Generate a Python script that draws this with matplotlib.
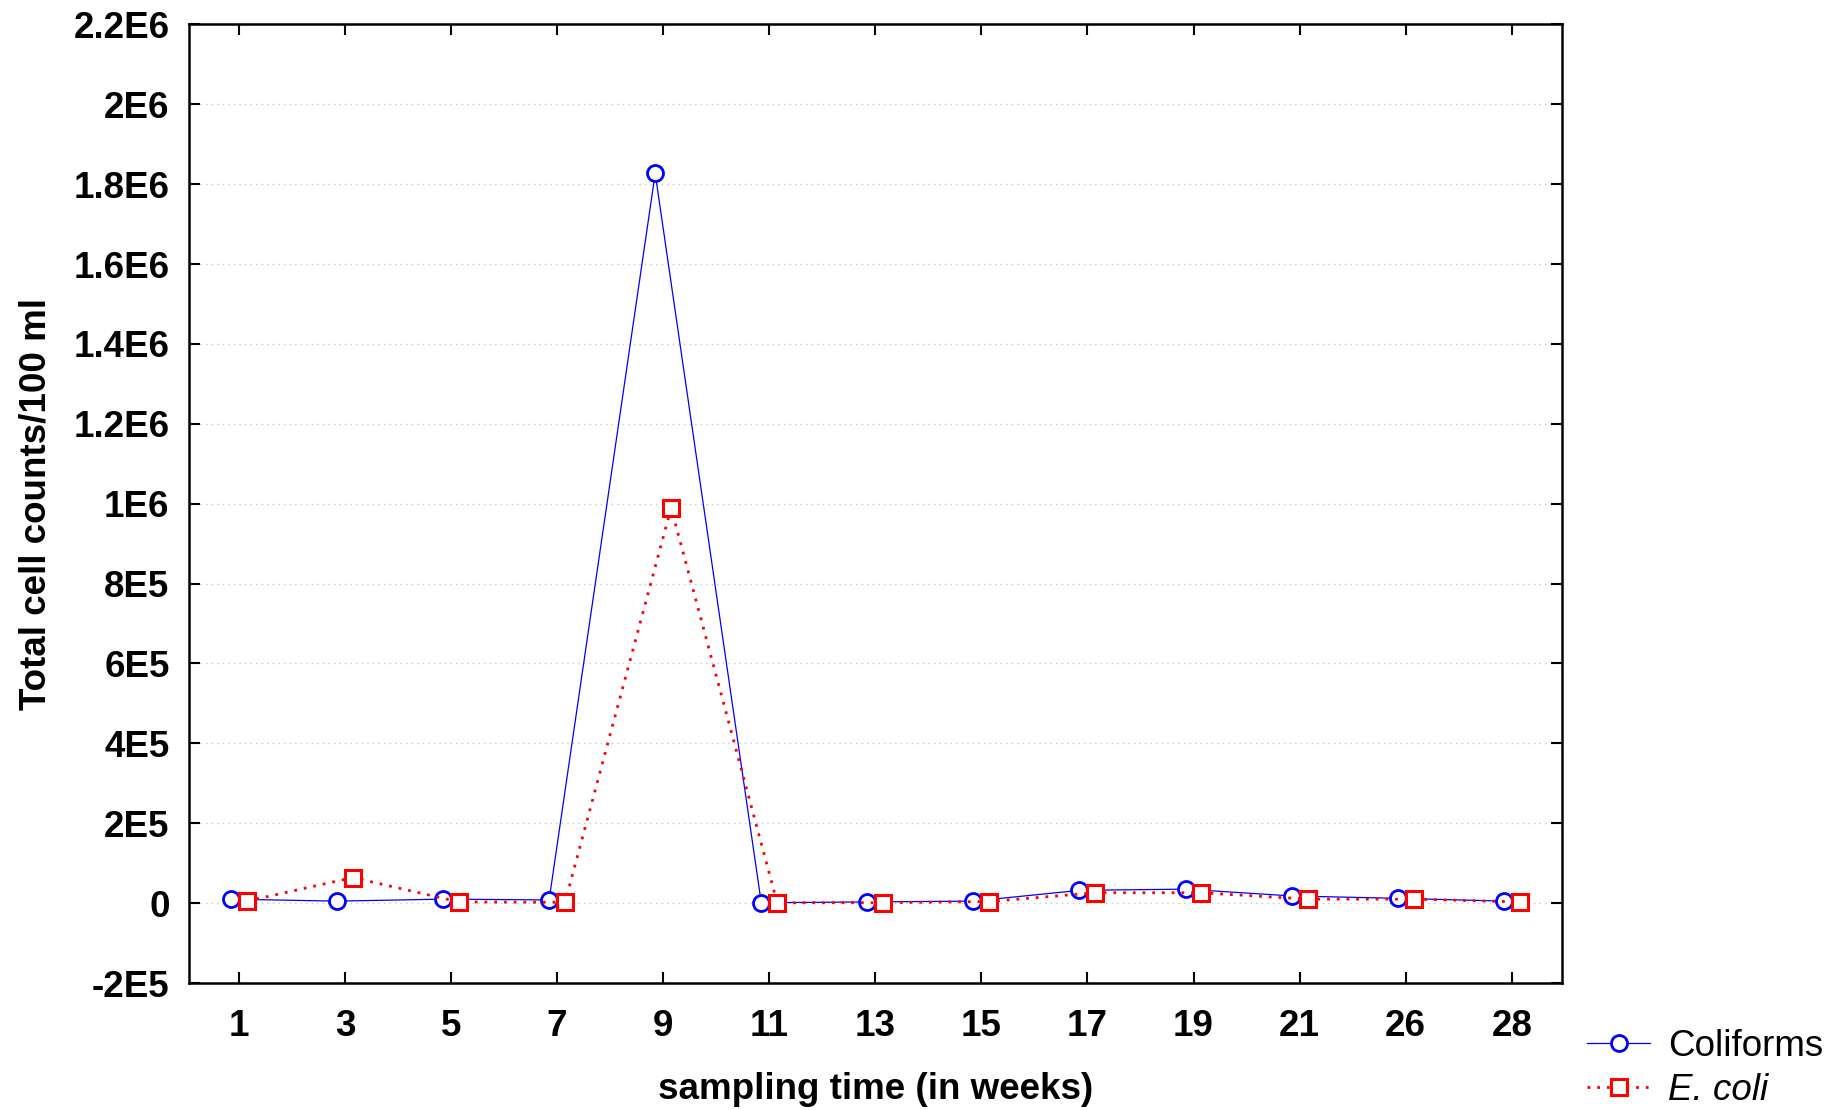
import numpy as np
import matplotlib
matplotlib.use("Agg")
import matplotlib.pyplot as plt

plt.rcParams['font.family'] = ['Liberation Sans', 'DejaVu Sans']

# sampling weeks (categorical x axis)
weeks = ["1", "3", "5", "7", "9", "11", "13", "15", "17", "19", "21", "26", "28"]

# values (cells / 100 ml)
coliforms = [1.0e4, 5e3, 1.0e4, 8e3, 1.827e6, 1e3, 3e3, 5e3, 3.2e4, 3.5e4, 1.8e4, 1.2e4, 5e3]
ecoli = [5e3, 6.4e4, 3e3, 2e3, 9.9e5, 1e3, 1e3, 4e3, 2.6e4, 2.6e4, 1.0e4, 1.0e4, 3e3]

y_ticks = [-2e5, 0, 2e5, 4e5, 6e5, 8e5, 1e6, 1.2e6, 1.4e6, 1.6e6, 1.8e6, 2e6, 2.2e6]
y_ticklabels = ["-2E5", "0", "2E5", "4E5", "6E5", "8E5", "1E6",
                "1.2E6", "1.4E6", "1.6E6", "1.8E6", "2E6", "2.2E6"]

fs = 26.5

fig = plt.figure(figsize=(18.35, 11.1), dpi=100)
ax = fig.add_axes([0.103, 0.1144, 0.748, 0.8636])

x = np.arange(len(weeks))
shift = 0.075

ax.plot(x - shift, coliforms, color='blue', lw=0.9, marker='o', ms=11.5,
        mfc='white', mec='blue', mew=2, label='Coliforms', zorder=3)
ax.plot(x + shift, ecoli, color='red', lw=2, ls=(0, (1, 2.5)), marker='s', ms=11.5,
        mfc='white', mec='red', mew=2.2, label='E. coli', zorder=4)

ax.set_xlim(-0.47, len(weeks) - 1 + 0.47)
ax.set_ylim(-2e5, 2.2e6)
ax.set_xticks(x)
ax.set_xticklabels(weeks, fontsize=fs, fontweight='bold')
ax.set_yticks(y_ticks)
ax.set_yticklabels(y_ticklabels, fontsize=fs, fontweight='bold')

ax.tick_params(axis='both', direction='in', length=8, width=1.5,
               top=True, right=True)
ax.tick_params(axis='x', pad=19)
ax.tick_params(axis='y', pad=14)

ax.grid(axis='y', ls=(0, (1, 3)), color='#c8c8c8', lw=1)
ax.set_axisbelow(True)
for s in ax.spines.values():
    s.set_linewidth(1.8)

ax.set_xlabel("sampling time (in weeks)", fontsize=fs, fontweight='bold', labelpad=20)
ax.set_ylabel("Total cell counts/100 ml", fontsize=fs, fontweight='bold', labelpad=14)

leg = fig.legend(loc='upper left', bbox_to_anchor=(0.865, 0.073), frameon=False,
                 fontsize=fs, handlelength=1.7, handletextpad=0.5, labelspacing=0.25,
                 borderpad=0, borderaxespad=0)
leg.get_texts()[1].set_fontstyle('italic')

fig.savefig("out.png", dpi=100)
